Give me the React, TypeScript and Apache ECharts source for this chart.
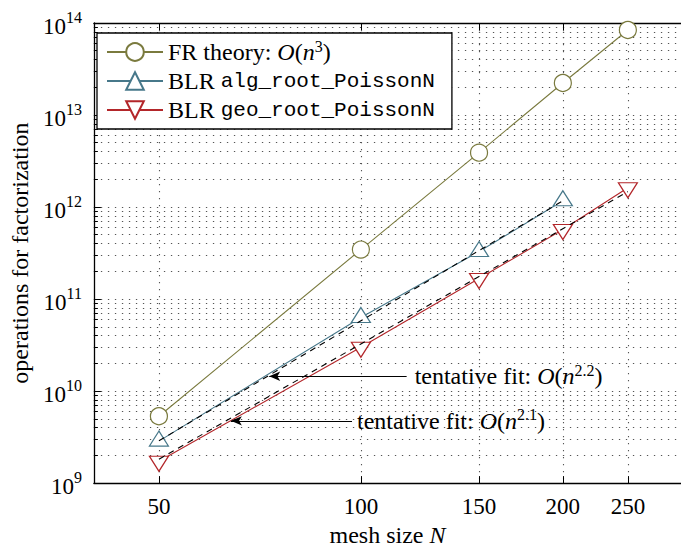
import React, { useEffect, useRef } from "react";
import * as echarts from "echarts";

// ---- data ----
const meshSizes = [50, 100, 150, 200, 250];
const frTheory = [5.33e9, 3.45e11, 3.9e12, 2.23e13, 8.4e13];
const blrAlg = [2.86e9, 6.3e10, 3.28e11, 1.17e12];
const blrGeo = [1.73e9, 2.99e10, 1.67e11, 5.69e11, 1.62e12];

const fitAlgN = [50, 200];
const fitAlgV = [2.88e9, 1.17e12];
const fitGeoN = [50, 250];
const fitGeoV = [1.82e9, 1.47e12];

// annotation arrows: [tail N, tip N, value]
const arrowAlg = [117, 73, 1.45e10];
const arrowGeo = [97, 64, 4.75e9];

const xTicks = [50, 100, 150, 200, 250];
const yMajor = [1e9, 1e10, 1e11, 1e12, 1e13, 1e14];
const yMinor = [
  2e9, 3e9, 4e9, 5e9, 6e9, 7e9, 8e9, 9e9,
  2e10, 3e10, 4e10, 5e10, 6e10, 7e10, 8e10, 9e10,
  2e11, 3e11, 4e11, 5e11, 6e11, 7e11, 8e11, 9e11,
  2e12, 3e12, 4e12, 5e12, 6e12, 7e12, 8e12, 9e12,
  2e13, 3e13, 4e13, 5e13, 6e13, 7e13, 8e13, 9e13,
];

const names = ["FR theory: O(n^3)", "BLR alg_root_PoissonN", "BLR geo_root_PoissonN"];

const SERIF = "'Liberation Serif', 'DejaVu Serif', serif";
const MONO = "'Liberation Mono', 'DejaVu Sans Mono', monospace";
const OLIVE = "#7a7a3e";
const TEAL = "#47788a";
const RED = "#b3262a";

const gridLine = { color: "#555", width: 1.1, type: [1.3, 5.7] as any };

const richBase = {
  s: { fontFamily: SERIF, fontSize: 24, lineHeight: 28, color: "#000" },
  i: { fontFamily: SERIF, fontStyle: "italic", fontSize: 24, lineHeight: 28, color: "#000" },
  m: { fontFamily: MONO, fontSize: 21, lineHeight: 28, color: "#000" },
  sup: { fontFamily: SERIF, fontSize: 16, lineHeight: 28, verticalAlign: "top", color: "#000" },
};

export default function App() {
  const ref = useRef<HTMLDivElement>(null);
  useEffect(() => {
    if (!ref.current) return;
    const chart = echarts.init(ref.current, null, { renderer: "svg" });
    const pairs = (xs: number[], ys: number[]) => xs.map((x, i) => [x, ys[i]]);
    const option: any = {
      animation: false,
      backgroundColor: "#fff",
      textStyle: { fontFamily: SERIF },
      grid: { left: 88, right: -4, top: 23, bottom: 68, show: false },
      legend: {
        orient: "vertical",
        left: 97,
        top: 33,
        padding: [5, 17, 7, 9],
        itemGap: 5,
        itemWidth: 56,
        itemHeight: 22,
        backgroundColor: "#fff",
        borderColor: "#000",
        borderWidth: 1.3,
        borderRadius: 0,
        data: names,
        formatter: (n: string) => {
          if (n === names[0]) return "{s|FR theory: }{i|O}{s|(}{i|n}{sup|3}{s|)}";
          if (n === names[1]) return "{s|BLR }{m|alg_root_PoissonN}";
          return "{s|BLR }{m|geo_root_PoissonN}";
        },
        textStyle: { fontFamily: SERIF, rich: richBase },
      },
      xAxis: [
        {
          type: "log",
          logBase: 10,
          min: 40,
          max: 300,
          position: "bottom",
          name: "{s|mesh size }{i|N}",
          nameLocation: "middle",
          nameGap: 31,
          nameTextStyle: { fontFamily: SERIF, rich: richBase },
          axisLine: { show: true, lineStyle: { color: "#000", width: 1.3 } },
          axisTick: { show: true, inside: true, length: 7, customValues: xTicks, lineStyle: { color: "#000", width: 1 } },
          axisLabel: {
            customValues: xTicks,
            margin: 12,
            fontFamily: SERIF,
            fontSize: 23,
            color: "#000",
            formatter: (v: number) => String(Math.round(v)),
          },
          splitLine: { show: true, lineStyle: gridLine },
          minorTick: { show: false },
        },
        {
          type: "log",
          logBase: 10,
          min: 40,
          max: 300,
          position: "top",
          axisLine: { show: true, lineStyle: { color: "#000", width: 1.3 } },
          axisTick: { show: true, inside: true, length: 7, customValues: xTicks, lineStyle: { color: "#000", width: 1 } },
          axisLabel: { show: false, customValues: xTicks },
          splitLine: { show: false },
        },
      ],
      yAxis: [
        {
          type: "log",
          logBase: 10,
          min: 1e9,
          max: 1e14,
          position: "left",
          name: "operations for factorization",
          nameLocation: "middle",
          nameGap: 51,
          nameTextStyle: { fontFamily: SERIF, fontSize: 24, color: "#000" },
          axisLine: { show: true, lineStyle: { color: "#000", width: 1.3 } },
          axisTick: { show: true, inside: true, length: 7, customValues: yMajor, lineStyle: { color: "#000", width: 1 } },
          axisLabel: {
            customValues: yMajor,
            margin: 12,
            fontFamily: SERIF,
            formatter: (v: number) => `{a|10}{b|${Math.round(Math.log10(v))}}`,
            rich: {
              a: { fontFamily: SERIF, fontSize: 23, lineHeight: 26, padding: [6, 0, 0, 0], color: "#000" },
              b: { fontFamily: SERIF, fontSize: 16, lineHeight: 26, padding: [0, 0, 12, 0], color: "#000" },
            },
          },
          splitLine: { show: true, lineStyle: gridLine },
        },
        {
          type: "log",
          logBase: 10,
          min: 1e9,
          max: 1e14,
          position: "left",
          axisLine: { show: false },
          axisTick: { show: true, inside: true, length: 4, customValues: yMinor, lineStyle: { color: "#000", width: 1 } },
          axisLabel: { show: false, customValues: yMinor },
          splitLine: { show: true, lineStyle: gridLine },
        },
      ],
      series: [
        {
          name: names[0],
          type: "line",
          data: pairs(meshSizes, frTheory),
          symbol: "circle",
          symbolSize: 17,
          itemStyle: { color: "#fff", borderColor: OLIVE, borderWidth: 1.2 },
          lineStyle: { color: OLIVE, width: 1.1 },
          z: 2,
        },
        {
          name: names[1],
          type: "line",
          data: pairs(meshSizes.slice(0, blrAlg.length), blrAlg),
          symbol: "path://M9.5,0 L19,15 L0,15 Z",
          symbolSize: [19, 15],
          symbolOffset: [0, -2.5],
          itemStyle: { color: "#fff", borderColor: TEAL, borderWidth: 1.2 },
          lineStyle: { color: TEAL, width: 1.1 },
          z: 2,
        },
        {
          name: names[2],
          type: "line",
          data: pairs(meshSizes, blrGeo),
          symbol: "path://M0,0 L19,0 L9.5,15 Z",
          symbolSize: [19, 15],
          symbolOffset: [0, 2.5],
          itemStyle: { color: "#fff", borderColor: RED, borderWidth: 1.2 },
          lineStyle: { color: RED, width: 1.1 },
          z: 2,
        },
        {
          name: "fit alg",
          type: "line",
          data: pairs(fitAlgN, fitAlgV),
          symbol: "none",
          lineStyle: { color: "#000", width: 1.1, type: [6, 5] },
          z: 3,
          silent: true,
          markLine: {
            silent: true,
            symbol: ["none", "arrow"],
            symbolSize: [7, 11],
            lineStyle: { color: "#000", width: 1.1, type: "solid" },
            label: {
              show: true,
              position: "start",
              distance: 8,
              fontFamily: SERIF,
              formatter: () => "{s|tentative fit: }{i|O}{s|(}{i|n}{sup|2.2}{s|)}",
              rich: richBase,
            },
            data: [[{ coord: [arrowAlg[0], arrowAlg[2]] }, { coord: [arrowAlg[1], arrowAlg[2]] }]],
          },
        },
        {
          name: "fit geo",
          type: "line",
          data: pairs(fitGeoN, fitGeoV),
          symbol: "none",
          lineStyle: { color: "#000", width: 1.1, type: [6, 5] },
          z: 3,
          silent: true,
          markLine: {
            silent: true,
            symbol: ["none", "arrow"],
            symbolSize: [7, 11],
            lineStyle: { color: "#000", width: 1.1, type: "solid" },
            label: {
              show: true,
              position: "start",
              distance: 5,
              fontFamily: SERIF,
              formatter: () => "{s|tentative fit: }{i|O}{s|(}{i|n}{sup|2.1}{s|)}",
              rich: richBase,
            },
            data: [[{ coord: [arrowGeo[0], arrowGeo[2]] }, { coord: [arrowGeo[1], arrowGeo[2]] }]],
          },
        },
      ],
    };
    chart.setOption(option);
    return () => chart.dispose();
  }, []);
  return (
    <div
      ref={ref}
      style={{ position: "fixed", left: 0, top: 0, width: 681, height: 552, background: "#fff" }}
    />
  );
}
